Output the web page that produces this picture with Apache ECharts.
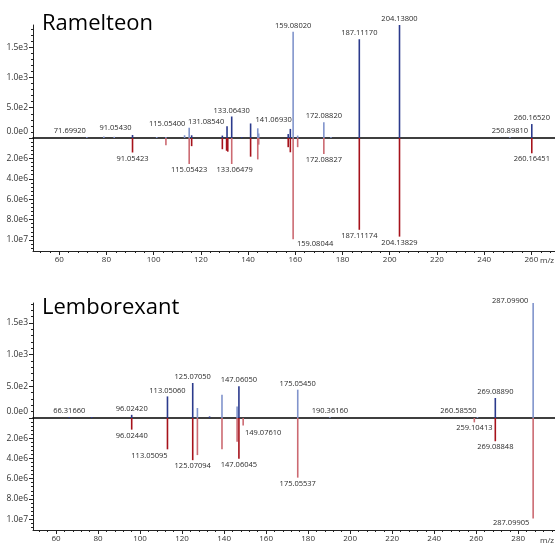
<!DOCTYPE html>
<html><head><meta charset="utf-8">
<script src="https://cdn.jsdelivr.net/npm/echarts@6/dist/echarts.min.js"></script>
<style>html,body{margin:0;padding:0;background:#fff}#c{width:555px;height:543px}</style>
</head><body><div id="c"></div><script>
// ---------- data ----------
const titles = ['Ramelteon', 'Lemborexant'];
const xTicksRam = [60, 80, 100, 120, 140, 160, 180, 200, 220, 240, 260];
const xTicksLem = [60, 80, 100, 120, 140, 160, 180, 200, 220, 240, 260, 280];
const yTicksUpper = [0, 500, 1000, 1500];
const yTicksLower = [2e6, 4e6, 6e6, 8e6, 1e7];

// Ramelteon: measured (upper) intensities
const ramUpDark = [[91.0543, 50], [116.1, 45], [129.1, 40], [131.0854, 195], [133.0643, 355], [137.3, 10],
  [141.0693, 240], [157.0, 65], [157.9, 150], [187.1117, 1630], [204.138, 1865], [260.1652, 230]];
const ramUpLight = [[71.6992, 3], [78.9, 25], [83.3, 20], [101.3, 10], [105.2, 12], [113.1, 45], [115.054, 170],
  [144.1, 160], [144.5, 75], [159.0802, 1755], [161.0, 40], [172.0882, 262], [175.1, 12], [250.8981, 4]];
// Ramelteon: predicted (lower) intensities
const ramDownDark = [[91.05423, 1.42e6], [116.1, 0.8e6], [129.1, 1.1e6], [130.9, 1.25e6], [131.4, 1.34e6],
  [141.07, 1.83e6], [157.0, 0.9e6], [157.9, 1.4e6], [187.11174, 9.0e6], [204.13829, 9.67e6], [260.16451, 1.5e6]];
const ramDownLight = [[105.2, 0.7e6], [115.05423, 2.55e6], [133.06479, 2.55e6], [144.1, 2.1e6], [144.5, 0.65e6],
  [159.08044, 9.93e6], [161.0, 0.9e6], [172.08827, 1.57e6]];
const ramUpLabels = [71.6992, 91.0543, 115.054, 131.0854, 133.0643, 141.0693, 159.0802, 172.0882, 187.1117, 204.138, 250.8981, 260.1652];
const ramDownLabels = [91.05423, 115.05423, 133.06479, 159.08044, 172.08827, 187.11174, 204.13829, 260.16451];

// Lemborexant: measured (upper) intensities
const lemUpDark = [[66.3166, 12], [77.0, 10], [96.0242, 50], [113.0506, 341], [125.0705, 553], [133.1, 25],
  [147.0605, 500], [269.0889, 316]];
const lemUpLight = [[127.3, 158], [139.0, 368], [146.2, 183], [175.0545, 447], [190.3616, 8], [260.5855, 4], [287.099, 1816]];
// Lemborexant: predicted (lower) intensities
const lemDownDark = [[96.0244, 1.15e6], [113.05095, 3.1e6], [125.07094, 4.17e6], [147.06045, 4.03e6], [269.08848, 2.3e6]];
const lemDownLight = [[127.3, 3.67e6], [139.0, 3.1e6], [146.2, 2.36e6], [149.0761, 0.73e6], [175.05537, 5.9e6],
  [259.10413, 0.43e6], [287.09905, 9.93e6]];
const lemUpLabels = [66.3166, 96.0242, 113.0506, 125.0705, 147.0605, 175.0545, 190.3616, 260.5855, 269.0889, 287.099];
const lemDownLabels = [96.0244, 113.05095, 125.07094, 147.06045, 149.0761, 175.05537, 259.10413, 269.08848, 287.09905];

// ---------- layout / style ----------
const FONT = 'Open Sans';
const C = {darkBlue: '#2b3a8c', lightBlue: '#8194cc', darkRed: '#a6121b', lightRed: '#cc6a72'};
const labelOffsets = {
  '71.69920': [-17, 0], '91.05430': [-17, -1], '115.05400': [-22, 2], '131.08540': [-21, 2], '141.06930': [23, 2],
  '133.06479': [3, 0], '159.08044': [22, -1], '113.05095': [-18, 1], '149.07610': [20, 1], '260.58550': [-19, 0],
  '287.09900': [-23, 4], '287.09905': [-22, -2]
};
const panels = [
  {top: 25, mid: 138, bottom: 251, xmin: 48.9, xmax: 270, upMax: 1865, loMax: 1.108e7, ticks: xTicksRam, titleTop: 13,
   sets: [[ramUpDark, ramUpLight, ramUpLabels], [ramDownDark, ramDownLight, ramDownLabels]]},
  {top: 303, mid: 418, bottom: 531, xmin: 49.05, xmax: 297.5, upMax: 1816, loMax: 1.108e7, ticks: xTicksLem, titleTop: 297,
   sets: [[lemUpDark, lemUpLight, lemUpLabels], [lemDownDark, lemDownLight, lemDownLabels]]}
];
const fmtExp = v => v.toExponential(1).replace('e+', 'e');
const axisCol = '#222';

const grid = [], xAxis = [], yAxis = [], series = [], title = [], graphic = [];
panels.forEach((p, pi) => {
  title.push({text: titles[pi], left: 42, top: p.titleTop, padding: 0,
    textStyle: {fontFamily: FONT, fontSize: 22, fontWeight: 'normal', color: '#000'}});
  const gU = grid.length;
  grid.push({left: 33, right: 0, top: p.top, height: p.mid - p.top});
  grid.push({left: 33, right: 0, top: p.mid, height: p.bottom - p.mid});
  const minorTicks = [];
  for (let v = Math.ceil(p.xmin / 4) * 4; v < p.xmax; v += 4) minorTicks.push(v);
  const xU = xAxis.length;
  xAxis.push({type: 'value', gridIndex: gU, min: p.xmin, max: p.xmax, position: 'bottom',
    axisLine: {show: true, onZero: false, lineStyle: {color: '#000', width: 1.6}}, axisTick: {show: false},
    axisLabel: {show: false}, splitLine: {show: false}});
  const xL = xAxis.length;
  xAxis.push({type: 'value', gridIndex: gU + 1, min: p.xmin, max: p.xmax, position: 'bottom',
    axisLine: {show: true, onZero: false, lineStyle: {color: axisCol, width: 1}},
    axisTick: {show: true, length: 4, customValues: p.ticks, lineStyle: {color: axisCol}},
    axisLabel: {show: true, customValues: p.ticks, fontSize: 8, fontFamily: FONT, color: '#333', margin: 5},
    splitLine: {show: false}});
  xAxis.push({type: 'value', gridIndex: gU + 1, min: p.xmin, max: p.xmax, position: 'bottom',
    axisLine: {show: false, onZero: false}, axisLabel: {show: false}, splitLine: {show: false},
    axisTick: {show: true, length: 2, customValues: minorTicks, lineStyle: {color: axisCol}}});
  const yU = yAxis.length;
  yAxis.push({type: 'value', gridIndex: gU, min: 0, max: p.upMax, interval: 500,
    axisLine: {show: true, onZero: false, lineStyle: {color: axisCol}},
    axisTick: {show: true, length: 4, customValues: yTicksUpper, lineStyle: {color: axisCol}},
    minorTick: {show: true, splitNumber: 5, length: 2, lineStyle: {color: axisCol}},
    axisLabel: {customValues: yTicksUpper, fontSize: 8.5, fontFamily: FONT, color: '#333', margin: 5,
      formatter: v => v === 0 ? '{z|' + fmtExp(v) + '}' : fmtExp(v),
      rich: {z: {fontSize: 8.5, fontFamily: FONT, color: '#333', padding: [0, 0, 12, 0]}}},
    splitLine: {show: false}});
  const yL = yAxis.length;
  yAxis.push({type: 'value', gridIndex: gU + 1, min: 0, max: p.loMax, interval: 2e6, inverse: true,
    axisLine: {show: true, onZero: false, lineStyle: {color: axisCol}},
    axisTick: {show: true, length: 4, customValues: yTicksLower, lineStyle: {color: axisCol}},
    minorTick: {show: true, splitNumber: 5, length: 2, lineStyle: {color: axisCol}},
    axisLabel: {customValues: yTicksLower, fontSize: 8.5, fontFamily: FONT, color: '#333', margin: 5, formatter: fmtExp},
    splitLine: {show: false}});
  [[xU, yU, 0], [xL, yL, 1]].forEach(([xi, yi, half]) => {
    const [dark, light, labels] = p.sets[half];
    const up = half === 0;
    [[dark, up ? C.darkBlue : C.darkRed], [light, up ? C.lightBlue : C.lightRed]].forEach(([arr, col]) => {
      series.push({
        type: 'bar', xAxisIndex: xi, yAxisIndex: yi, barWidth: 1.6, barGap: '-100%', barMinHeight: 1,
        itemStyle: {color: col}, silent: true,
        label: {show: false, position: up ? 'top' : 'bottom', distance: 2, fontSize: 7.5, fontFamily: FONT, color: '#2a2a2a',
          formatter: q => q.value[0].toFixed(5)},
        data: arr.map(d => {
          const txt = d[0].toFixed(5);
          if (!labels.includes(d[0])) return {value: d};
          return {value: d, label: {show: true, offset: labelOffsets[txt] || [0, 0]}};
        })
      });
    });
  });
  graphic.push({type: 'text', left: 540, top: p.bottom + 6, style: {text: 'm/z', font: '8px "' + FONT + '"', fill: '#333'}});
});

const chart = echarts.init(document.getElementById('c'), null, {renderer: 'canvas'});
chart.setOption({animation: false, backgroundColor: '#fff', title, grid, xAxis, yAxis, series, graphic});
</script></body></html>
